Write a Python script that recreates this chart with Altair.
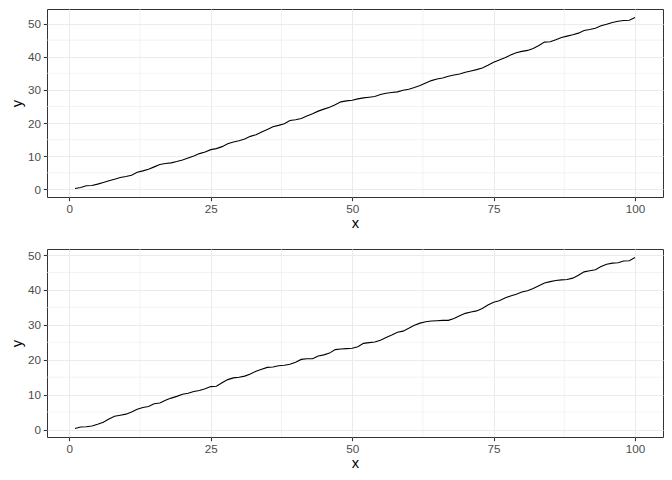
import altair as alt
import pandas as pd

x_vals = list(range(1, 101))

y_top = [0.3, 0.6, 1.1, 1.2, 1.6, 2.1, 2.6, 3.1, 3.6, 3.9,
         4.3, 5.2, 5.6, 6.1, 6.8, 7.5, 7.8, 8.0, 8.4, 8.9,
         9.5, 10.1, 10.8, 11.3, 12.0, 12.3, 12.9, 13.8, 14.3, 14.7,
         15.2, 16.0, 16.5, 17.3, 18.1, 18.9, 19.3, 19.8, 20.8, 21.0,
         21.4, 22.1, 22.8, 23.6, 24.2, 24.8, 25.5, 26.4, 26.7, 26.9,
         27.3, 27.6, 27.8, 28.0, 28.6, 29.0, 29.2, 29.4, 29.9, 30.2,
         30.7, 31.3, 32.1, 32.8, 33.3, 33.6, 34.1, 34.5, 34.8, 35.3,
         35.7, 36.1, 36.6, 37.4, 38.3, 39.0, 39.7, 40.5, 41.2, 41.6,
         41.9, 42.5, 43.4, 44.4, 44.5, 45.1, 45.8, 46.2, 46.6, 47.1,
         47.9, 48.2, 48.6, 49.3, 49.8, 50.3, 50.7, 50.9, 51.0, 51.8]

y_bottom = [0.3, 0.7, 0.8, 1.0, 1.5, 2.1, 3.0, 3.8, 4.1, 4.4,
            5.0, 5.8, 6.3, 6.6, 7.4, 7.6, 8.4, 9.0, 9.5, 10.1,
            10.4, 10.9, 11.2, 11.7, 12.3, 12.4, 13.4, 14.3, 14.8, 15.0,
            15.3, 15.9, 16.7, 17.3, 17.8, 17.9, 18.3, 18.4, 18.7, 19.3,
            20.1, 20.3, 20.3, 21.1, 21.4, 21.9, 22.9, 23.1, 23.2, 23.3,
            23.7, 24.7, 24.9, 25.1, 25.6, 26.4, 27.1, 27.9, 28.2, 29.0,
            29.9, 30.5, 30.9, 31.1, 31.2, 31.3, 31.3, 31.8, 32.6, 33.3,
            33.7, 34.0, 34.7, 35.7, 36.5, 36.9, 37.7, 38.3, 38.8, 39.4,
            39.8, 40.4, 41.2, 42.0, 42.4, 42.7, 42.9, 43.0, 43.4, 44.2,
            45.2, 45.5, 45.8, 46.7, 47.4, 47.7, 47.8, 48.3, 48.4, 49.3]

x_ticks = [0, 25, 50, 75, 100]
y_ticks = [0, 10, 20, 30, 40, 50]
minor_x = [12.5, 37.5, 62.5, 87.5]
minor_y = [5, 15, 25, 35, 45]

FONT = "Liberation Sans"
GRID = "#EBEBEB"


def expand(vals, frac=0.05):
    lo, hi = min(vals), max(vals)
    d = (hi - lo) * frac
    return [lo - d, hi + d]


def panel(yvals):
    xs = alt.Scale(domain=expand(x_vals), nice=False, zero=False)
    ys = alt.Scale(domain=expand(yvals), nice=False, zero=False)
    xa = alt.Axis(values=x_ticks, title="x", titlePadding=0)
    ya = alt.Axis(values=y_ticks, title="y", titlePadding=3)
    df = pd.DataFrame({"x": x_vals, "y": yvals})
    mv = alt.Chart(pd.DataFrame({"x": minor_x})).mark_rule(
        color=GRID, strokeWidth=0.6
    ).encode(x=alt.X("x:Q", scale=xs, axis=xa))
    mh = alt.Chart(pd.DataFrame({"y": minor_y})).mark_rule(
        color=GRID, strokeWidth=0.6
    ).encode(y=alt.Y("y:Q", scale=ys, axis=ya))
    line = alt.Chart(df).mark_line(color="black", strokeWidth=1.1).encode(
        x=alt.X("x:Q", scale=xs, axis=xa),
        y=alt.Y("y:Q", scale=ys, axis=ya),
    )
    return alt.layer(mv, mh, line).properties(width=616, height=188)


chart = alt.vconcat(panel(y_top), panel(y_bottom), spacing=17).properties(
    padding=0
).configure_view(
    stroke="#333333", strokeWidth=1
).configure_axis(
    grid=True, gridColor=GRID, gridWidth=1.07,
    domain=False,
    tickColor="#333333", tickSize=3.7, tickWidth=1.07,
    labelColor="#4D4D4D", labelFontSize=11.7, labelFont=FONT,
    labelPadding=2.9,
    titleFont=FONT, titleFontSize=14.7, titleColor="black",
    titleFontWeight="normal",
)

chart.save("out.html", embed_options={"renderer": "svg", "actions": False})
